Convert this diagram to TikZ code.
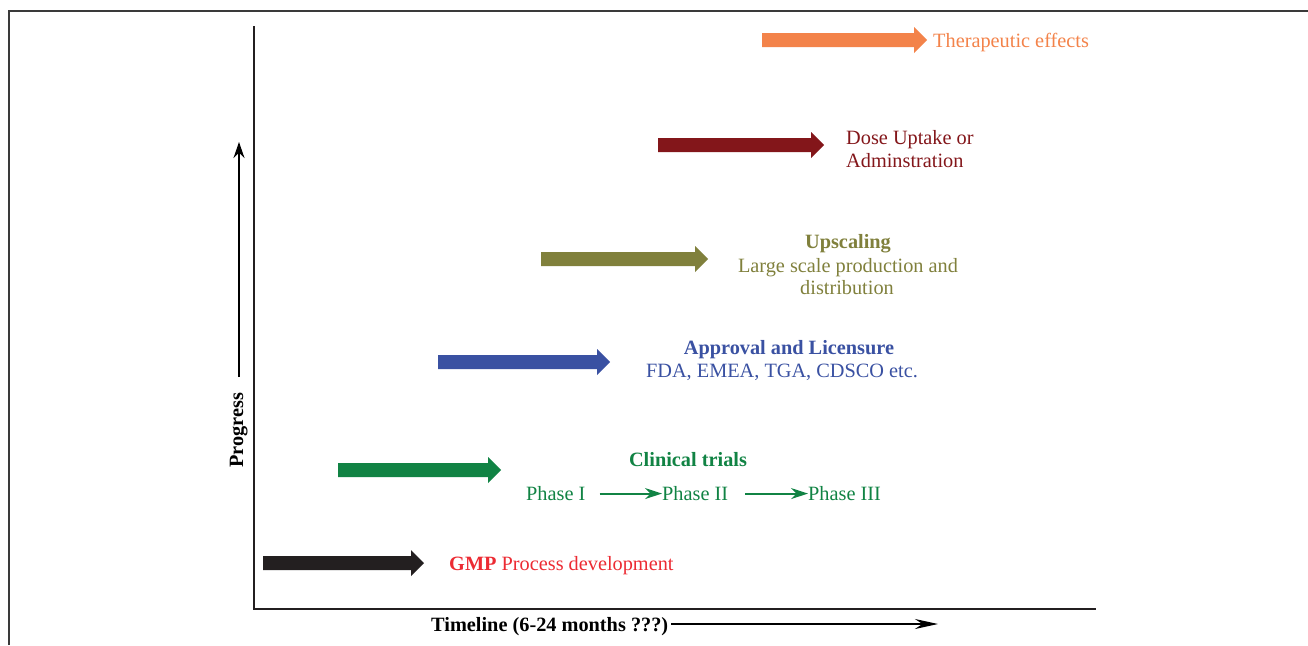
\documentclass[tikz,border=0pt]{standalone}
\usepackage{fontspec}
\setmainfont{Liberation Serif}
\usetikzlibrary{arrows.meta}
\definecolor{cBlack}{HTML}{231F20}
\definecolor{cGreen}{HTML}{118344}
\definecolor{cBlue}{HTML}{3A51A2}
\definecolor{cOlive}{HTML}{80803C}
\definecolor{cDark}{HTML}{83161A}
\definecolor{cOrange}{HTML}{F3834A}
\definecolor{cRed}{HTML}{EC2B33}
\definecolor{cFrame}{HTML}{3A3A3A}
\newcommand\blockarr[5]{% name, color, x1, x2, y
  \fill[#2] ({#3},{#5-7}) -- ({#4-13},{#5-7}) -- ({#4-13},{#5-13}) -- ({#4},{#5}) -- ({#4-13},{#5+13}) -- ({#4-13},{#5+7}) -- ({#3},{#5+7}) -- cycle;
  \coordinate (#1) at ({#4},{#5});}
\tikzset{
  lbl/.style={inner sep=0pt, font=\fontsize{20.3}{24}\selectfont},
  bl/.style={inner sep=0pt, font=\fontsize{20.3}{24}\selectfont\bfseries},
  axis/.style={line width=2pt, cBlack},
  thin arrow/.style={line width=1.6pt, -{Stealth[length=23pt,width=10pt]}},
  phase arrow/.style={line width=2pt, cGreen, -{Stealth[length=17pt,width=11pt]}}
}
\begin{document}
\begin{tikzpicture}[x=1pt,y=-1pt]
\useasboundingbox (0,0) rectangle (1308,645);
% frame
\draw[cFrame, line width=1.6pt] (9,645) -- (9,11) -- (1308,11);
% axes
\coordinate (ytop) at (253.5,26);
\coordinate (origin) at (253.5,609);
\coordinate (xend) at (1096,609);
\draw[axis] (ytop) -- (origin) -- (xend);
% progress
\coordinate (pbot) at (239,377);
\coordinate (ptop) at (239,142);
\draw[line width=1.6pt, -{Stealth[length=16pt,width=11pt]}] (pbot) -- (ptop);
\node[bl, rotate=90, anchor=base] (prog) at (243,430) {Progress};
% timeline
\node[bl, anchor=base west] (tl) at (431,631) {Timeline (6-24 months ???)};
\coordinate (tend) at (938,624);
\draw[thin arrow] (tl.east |- tend) ++(3,0) coordinate (tstart) -- (tend);
% block arrows
\blockarr{a1}{cBlack}{263}{424}{563}
\blockarr{a2}{cGreen}{338}{501}{470}
\blockarr{a3}{cBlue}{438}{610}{362}
\blockarr{a4}{cOlive}{541}{708}{259}
\blockarr{a5}{cDark}{658}{824}{145}
\blockarr{a6}{cOrange}{762}{927}{40}
% texts
\node[lbl, anchor=base west, cRed] (gmp) at (449,570) {\textbf{GMP} Process development};
\node[bl, anchor=base, cGreen] (ct) at (688,466) {Clinical trials};
\node[lbl, anchor=base west, cGreen] (p1) at (526,500) {Phase I};
\node[lbl, anchor=base west, cGreen] (p2) at (662,500) {Phase II};
\node[lbl, anchor=base west, cGreen] (p3) at (808,500) {Phase III};
\draw[phase arrow] ([xshift=14pt,yshift=-0.5pt]p1.east) -- ([yshift=-0.5pt]p2.west);
\draw[phase arrow] ([xshift=17pt,yshift=-0.5pt]p2.east) -- ([yshift=-0.5pt]p3.west);
\node[bl, anchor=base, cBlue] (ap) at (789,354) {Approval and Licensure};
\node[lbl, anchor=base, cBlue] (fda) at (782,377) {FDA, EMEA, TGA, CDSCO etc.};
\node[bl, anchor=base, cOlive] (up) at (848,248) {Upscaling};
\node[lbl, anchor=base, cOlive] (ls) at (848,272) {Large scale production and};
\node[lbl, anchor=base, cOlive] (dist) at (847,294) {distribution};
\node[lbl, anchor=base west, cDark] (dose) at (846,144) {Dose Uptake or};
\node[lbl, anchor=base west, cDark] (adm) at (846,167) {Adminstration};
\node[lbl, anchor=base west, cOrange] (ther) at (933,47) {Therapeutic effects};
\end{tikzpicture}
\end{document}
